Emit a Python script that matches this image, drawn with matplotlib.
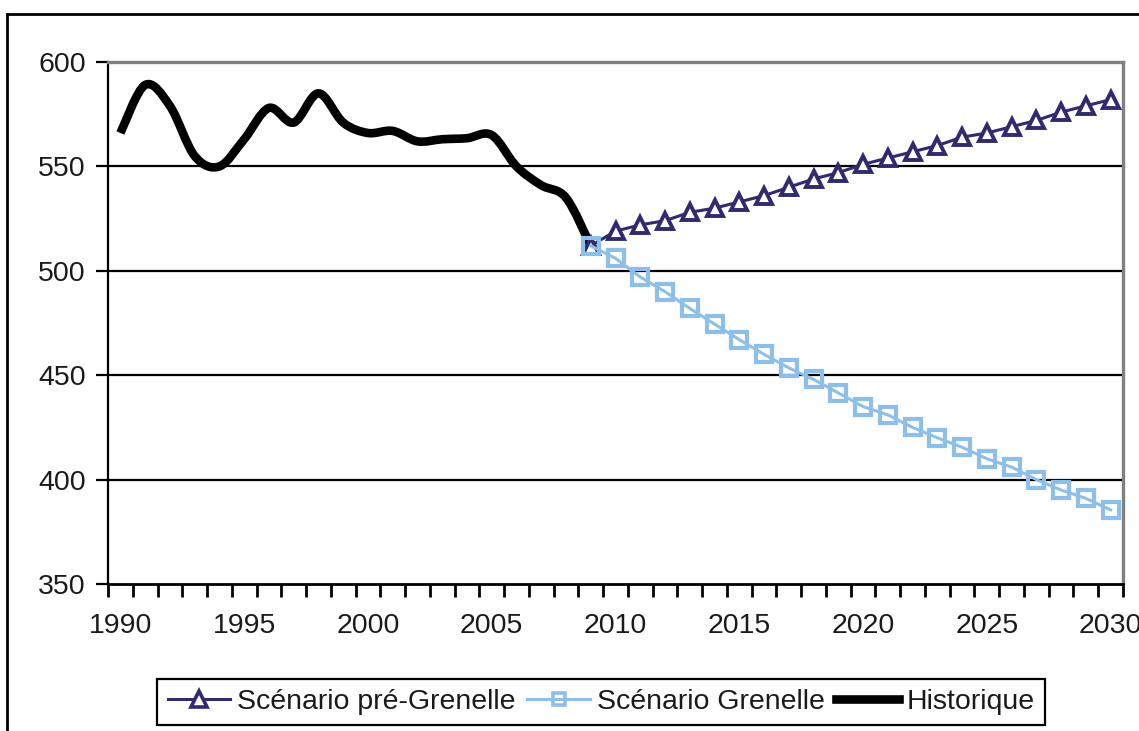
import matplotlib
matplotlib.use("Agg")
import matplotlib.pyplot as plt
from matplotlib.path import Path
from matplotlib.patches import PathPatch
from matplotlib.lines import Line2D
import numpy as np

# historique annuel 1990-2009 et scenarios 2009-2030
hist_years = list(range(1990, 2010))
hist_vals = [566, 589, 579, 555, 550, 563, 578, 571, 585, 571,
             566, 567, 562, 563, 563.5, 565, 550, 541, 535, 512]
scen_years = list(range(2009, 2031))
pre_grenelle = [512, 519, 522, 524, 528, 530, 533, 536, 540, 544, 547,
                551, 554, 557, 560, 564, 566, 569, 572, 576, 579, 582]
grenelle = [512, 506, 497, 490, 482, 474.5, 467, 460, 453.5, 448, 441.5,
            435, 431, 425, 420, 415.5, 410, 406, 400, 395, 391, 385.5]
x_labels = list(range(1990, 2031, 5))

NAVY = "#302B6F"
LIGHT = "#8DBFE8"
GRAY = "#808080"
FS = 20.5

plt.rcParams["font.family"] = ["Liberation Sans", "DejaVu Sans"]
plt.rcParams["text.color"] = "#1a1a1a"

fig = plt.figure(figsize=(11.39, 7.31), dpi=100)
ax = fig.add_axes([108 / 1139, 1 - 584 / 731, (1123 - 108) / 1139, (584 - 62) / 731])


def smooth(x, y):
    # courbe lissee type tableur : segments de Bezier cubiques
    n = len(x)
    verts = [(x[0], y[0])]
    codes = [Path.MOVETO]
    for i in range(n - 1):
        a = max(i - 1, 0)
        d = min(i + 2, n - 1)
        c1 = (x[i] + (x[i + 1] - x[a]) / 6, y[i] + (y[i + 1] - y[a]) / 6)
        c2 = (x[i + 1] - (x[d] - x[i]) / 6, y[i + 1] - (y[d] - y[i]) / 6)
        verts += [c1, c2, (x[i + 1], y[i + 1])]
        codes += [Path.CURVE4] * 3
    return Path(verts, codes)


for v in [400, 450, 500, 550]:
    ax.axhline(v, color="black", lw=1.6, zorder=1)

ax.add_patch(PathPatch(smooth(hist_years, hist_vals), fill=False, ec="black",
                       lw=6.2, joinstyle="round", capstyle="butt", zorder=3))
ax.plot(scen_years, pre_grenelle, color=NAVY, lw=2.2, marker="^", ms=12,
        mfc="white", mec=NAVY, mew=2.8, zorder=4)
ax.plot(scen_years, grenelle, color=LIGHT, lw=2.2, marker="s", ms=11,
        mfc="none", mec=LIGHT, mew=3, zorder=5)

ax.set_xlim(1989.5, 2030.5)
ax.set_ylim(350, 600)
ax.set_xticks(x_labels)
ax.set_xticklabels([str(y) for y in x_labels])
ax.set_xticks(np.arange(1989.5, 2031, 1), minor=True)
ax.tick_params(axis="x", which="major", length=0, pad=21, labelsize=FS,
               labelcolor="#1a1a1a")
ax.tick_params(axis="x", which="minor", length=9, width=2, direction="out")
ax.set_yticks(range(350, 601, 50))
ax.tick_params(axis="y", length=9, width=1.6, direction="out", pad=7,
               labelsize=FS, labelcolor="#1a1a1a")

for s in ["top", "right"]:
    ax.spines[s].set_color(GRAY)
    ax.spines[s].set_linewidth(2.4)
ax.spines["left"].set_linewidth(1.6)
ax.spines["bottom"].set_linewidth(2)

# cadre exterieur du graphique
fig.add_artist(Line2D([7 / 1139, 1], [1 - 14 / 731] * 2, color="black", lw=2,
                      transform=fig.transFigure))
fig.add_artist(Line2D([7 / 1139] * 2, [0, 1 - 14 / 731], color="black", lw=2,
                      transform=fig.transFigure))

handles = [
    Line2D([], [], color=NAVY, lw=2.2, marker="^", ms=11, mfc="white",
           mec=NAVY, mew=2.6),
    Line2D([], [], color=LIGHT, lw=2.2, marker="s", ms=8, mfc="none",
           mec=LIGHT, mew=2.6),
    Line2D([], [], color="black", lw=6.2),
]
leg = fig.legend(handles, ["Scénario pré-Grenelle", "Scénario Grenelle", "Historique"],
                 loc="center", bbox_to_anchor=(601 / 1139, 1 - 702 / 731), ncol=3,
                 fontsize=FS, frameon=True, fancybox=False, framealpha=1,
                 edgecolor="black", handlelength=2.2, handletextpad=0.25,
                 columnspacing=0.4, borderpad=0.36, borderaxespad=0)
leg.get_frame().set_linewidth(1.6)

fig.savefig("out.png", dpi=100)
